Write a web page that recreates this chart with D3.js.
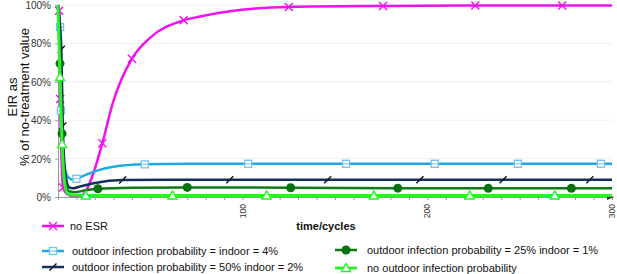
<!DOCTYPE html>
<html>
<head>
<meta charset="utf-8">
<script src="https://cdn.jsdelivr.net/npm/d3@7"></script>
<style>
    body { margin: 0; background: #fff; }
    svg { font-family: "Liberation Sans", Arial, sans-serif; }
</style>
</head>
<body>
<div id="chart"></div>
<script>
// ---- data (time in cycles, EIR as % of no-treatment value) ----
const yTicks = [0, 20, 40, 60, 80, 100];
const xLabels = [100, 200, 300];
const xMinorTicks = d3.range(0, 301, 10);

const seriesLabels = [
    "no ESR",
    "outdoor infection probability = indoor = 4%",
    "outdoor infection probability = 50% indoor = 2%",
    "outdoor infection probability = 25% indoor = 1%",
    "no outdoor infection probability"
];

// curve points
const noEsrLine = [[0,100],[0.6,97],[1.2,51],[2.8,5],[5,1.5],[8,0.5],[12,0.5],[15,3],[19,12],[24,28],[30,50],[40,72],[50,83],[68,92],[77,94],[95,97],[125,99],[176,99.5],[226,99.7],[273,99.8],[300,99.8]];
const equalLine = [[0,100],[1.1,88.5],[1.6,45],[3,20],[5,11],[8,9],[10,9.5],[15,11.5],[22,14],[30,15.7],[47,17],[70,17.3],[103,17.3],[300,17.3]];
const out50Line = [[0,100],[1.8,77],[2.6,37],[4,12],[6,5],[8,4.5],[12,5.5],[20,7.3],[35,8.8],[60,9],[300,9]];
const out25Line = [[0,100],[1.1,69.5],[2.2,33],[4,8],[6,3],[9,2.5],[15,3.5],[21.6,4.3],[40,4.8],[70,5],[126,4.8],[184,4.6],[233,4.5],[278,4.5],[300,4.5]];
const noOutLine = [[0,100],[1.1,62.5],[2.2,27.6],[3.5,8],[5,2],[8,1],[15,0.8],[300,0.8]];

// marker points
const noEsrMarks = [[0.6,97],[1.2,51],[2.8,5],[24,28],[40,72],[68,92],[125,99],[176,99.5],[226,99.7],[273,99.8]];
const equalMarks = [[1.1,88.5],[1.6,45],[10,9.5],[47,17],[103,17.3],[156,17.3],[204,17.3],[249,17.3],[294,17.3]];
const out50Marks = [[1.8,77],[2.6,37],[35,8.8],[93,9],[146,9],[196,9],[241,9],[288,9]];
const out25Marks = [[1.1,69.5],[2.2,33],[21.6,4.3],[70,5],[126,4.8],[184,4.6],[233,4.5],[278,4.5]];
const noOutMarks = [[1.1,62.5],[2.2,27.6],[15,0.8],[62,0.8],[113,0.8],[171,0.8],[223,0.8],[269,0.8]];

const series = [
    { name: seriesLabels[0], line: noEsrLine, marks: noEsrMarks, color: "#f20ff2", marker: "x",        width: 2.5, lx: 42, ly: 226, tx: 70 },
    { name: seriesLabels[1], line: equalLine, marks: equalMarks, color: "#1ea9e4", marker: "square",   width: 2.5, lx: 42, ly: 251, tx: 72 },
    { name: seriesLabels[2], line: out50Line, marks: out50Marks, color: "#14305c", marker: "slash",    width: 2.5, lx: 42, ly: 267, tx: 72 },
    { name: seriesLabels[3], line: out25Line, marks: out25Marks, color: "#0b7a12", marker: "circle",   width: 2.5, lx: 335, ly: 250, tx: 367 },
    { name: seriesLabels[4], line: noOutLine, marks: noOutMarks, color: "#2cf02c", marker: "triangle", width: 3,   lx: 335, ly: 268, tx: 367 }
];

const width = 617, height = 274;
const svg = d3.select("#chart").append("svg")
    .attr("width", width)
    .attr("height", height);

const x = d3.scaleLinear().domain([0, 300]).range([58, 612]);
const y = d3.scaleLinear().domain([0, 100]).range([197, 5]);

// gridlines
svg.append("g")
    .selectAll("line")
    .data(yTicks.slice(1))
    .join("line")
    .attr("x1", x(0)).attr("x2", x(300))
    .attr("y1", d => y(d)).attr("y2", d => y(d))
    .attr("stroke", "#efefef")
    .attr("stroke-width", 1);

// y axis
const yAxis = svg.append("g")
    .attr("transform", `translate(${x(0)},0)`)
    .call(d3.axisLeft(y).tickValues(yTicks).tickSize(3).tickPadding(4).tickFormat(d => d + "%"));
yAxis.select(".domain").attr("stroke", "#9a9a9a");
yAxis.selectAll(".tick line").attr("stroke", "#9a9a9a");
yAxis.selectAll("text").attr("fill", "#333").style("font-size", "10px").attr("dy", "0.35em");

// x axis
const xAxis = svg.append("g")
    .attr("transform", `translate(0,${y(0)})`)
    .call(d3.axisBottom(x).tickValues(xMinorTicks).tickSize(3).tickFormat(""));
xAxis.select(".domain").attr("stroke", "#9a9a9a");
xAxis.selectAll(".tick line").attr("stroke", "#9a9a9a");

// arrow at the end of x axis
svg.append("path")
    .attr("d", `M${x(300) - 5},${y(0) - 3}L${x(300) + 2},${y(0)}L${x(300) - 5},${y(0) + 3}Z`)
    .attr("fill", "#333");

// rotated x tick labels
svg.append("g")
    .selectAll("text")
    .data(xLabels)
    .join("text")
    .attr("transform", d => `translate(${x(d) + 3},${y(0) + 7}) rotate(-90)`)
    .attr("text-anchor", "end")
    .attr("fill", "#333")
    .style("font-size", "8.5px")
    .text(d => d);

// axis titles
svg.append("text")
    .attr("x", 326).attr("y", 230)
    .attr("text-anchor", "middle")
    .style("font-size", "11px")
    .style("font-weight", "bold")
    .attr("fill", "#111")
    .text("time/cycles");

const yTitle = svg.append("g")
    .attr("transform", "translate(0,97) rotate(-90)")
    .attr("text-anchor", "middle")
    .attr("fill", "#111")
    .style("font-size", "13px");
yTitle.append("text").attr("x", 0).attr("y", 17).text("EIR as");
yTitle.append("text").attr("x", 0).attr("y", 29).text("% of no-treatment value");

// markers
function drawMarker(g, type, color) {
    if (type === "x") {
        g.append("path").attr("d", "M-4,-4L4,4M-4,4L4,-4")
            .attr("stroke", color).attr("stroke-width", 1.4).attr("fill", "none");
    } else if (type === "square") {
        g.append("rect").attr("x", -3.5).attr("y", -3.5).attr("width", 7).attr("height", 7)
            .attr("fill", "#fff").attr("stroke", "#72c4ec").attr("stroke-width", 1.3);
        g.append("line").attr("x1", -3.5).attr("x2", 3.5).attr("y1", 0).attr("y2", 0)
            .attr("stroke", "#72c4ec").attr("stroke-width", 1);
    } else if (type === "slash") {
        g.append("path").attr("d", "M-3.5,3.5L3.5,-3.5")
            .attr("stroke", "#111").attr("stroke-width", 1.4);
    } else if (type === "circle") {
        g.append("circle").attr("r", 4.5).attr("fill", "#087010");
    } else if (type === "triangle") {
        g.append("path").attr("d", "M0,-4.5L4.5,3.5L-4.5,3.5Z")
            .attr("fill", "#fff").attr("stroke", color).attr("stroke-width", 1.4);
    }
}

const line = d3.line()
    .x(d => x(d[0]))
    .y(d => y(d[1]))
    .curve(d3.curveMonotoneX);

series.forEach(s => {
    const g = svg.append("g");
    g.append("path")
        .datum(s.line)
        .attr("d", line)
        .attr("fill", "none")
        .attr("stroke", s.color)
        .attr("stroke-width", s.width)
        .attr("stroke-linejoin", "round");
    s.marks.forEach(m => {
        const mg = g.append("g").attr("transform", `translate(${x(m[0])},${y(m[1])})`);
        drawMarker(mg, s.marker, s.color);
    });
});

// legend
const legend = svg.append("g");
series.forEach(s => {
    const row = legend.append("g");
    row.append("line")
        .attr("x1", s.lx).attr("x2", s.lx + 22)
        .attr("y1", s.ly).attr("y2", s.ly)
        .attr("stroke", s.color).attr("stroke-width", s.width);
    drawMarker(row.append("g").attr("transform", `translate(${s.lx + 11},${s.ly})`), s.marker, s.color);
    row.append("text")
        .attr("x", s.tx).attr("y", s.ly + 4)
        .attr("fill", "#111")
        .style("font-size", "11px")
        .text(s.name);
});
</script>
</body>
</html>
